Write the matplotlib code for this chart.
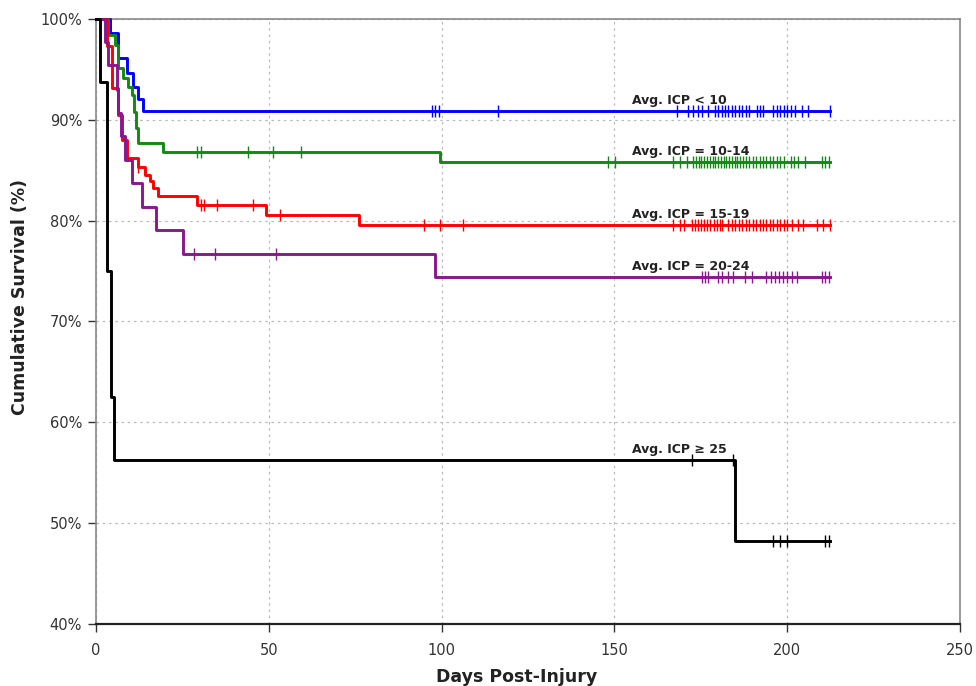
import numpy as np
import matplotlib
matplotlib.use("Agg")
import matplotlib.pyplot as plt
from matplotlib.ticker import FuncFormatter

# ---------------- data ----------------
group_labels = ["Avg. ICP < 10", "Avg. ICP = 10-14", "Avg. ICP = 15-19",
                "Avg. ICP = 20-24", "Avg. ICP \u2265 25"]
group_colors = ["#0000FF", "#108A10", "#FF0000", "#8B168F", "#000000"]

blue_times = [4.0, 6.5, 8.9, 10.8, 12.2, 13.7]
blue_surv = [98.6, 96.1, 94.6, 93.3, 92.1, 90.9]
blue_cens = [97.1, 98.1, 99.3, 116.2, 168, 171.4, 172.6, 174.3, 175.3, 177.2,
             179, 180, 181, 182, 183, 184, 185, 186, 187, 188, 189, 191.2,
             192.1, 193.1, 196, 197, 198, 199, 200, 201, 202.3, 204.2, 206.1, 212.4]

green_times = [3.6, 5.5, 6.5, 7.9, 9.4, 10.3, 11.0, 11.7, 12.2, 19.5, 99.5]
green_surv = [98.4, 97.4, 95.1, 94.1, 93.3, 92.5, 90.8, 89.2, 87.7, 86.8, 85.8]
green_cens = [29.3, 30.3, 44.1, 51.1, 59.2, 148.2, 150.2, 167, 168.9, 170.9,
              172.8, 173.6, 174.4, 175.2, 176, 176.8, 177.6, 178.4, 179.2, 180,
              180.8, 181.6, 182.4, 183.2, 184, 184.8, 185.6, 186.4, 187.2, 188,
              189, 190, 191, 192, 193, 194, 195, 196, 197, 198, 199, 201, 202.1,
              203.2, 205.2, 210, 211, 212]

red_times = [3.1, 4.5, 6.3, 7.4, 8.9, 12.2, 14.2, 15.6, 16.6, 18.0, 29.3, 49.1, 76.2]
red_surv = [97.3, 93.2, 90.5, 88.0, 86.2, 85.3, 84.5, 83.9, 83.2, 82.4, 81.6, 80.6, 79.6]
red_cens = [12.2, 30.3, 31.2, 35.1, 45.3, 53.2, 95, 99.5, 106.1, 167, 169, 170,
            172.4, 173.3, 174.2, 175.1, 176, 176.9, 177.8, 178.7, 179.6, 180.5,
            181.1, 183, 184, 185, 186, 187, 188, 189, 190, 191, 192, 193, 194,
            195, 196, 197, 198, 199, 200, 201.5, 203, 204.7, 208.5, 210.5, 212.4]

purple_times = [2.5, 3.6, 6.0, 6.5, 7.3, 8.4, 10.3, 13.4, 17.3, 25.1, 98.1]
purple_surv = [97.7, 95.4, 93.0, 90.7, 88.4, 86.0, 83.7, 81.4, 79.1, 76.7, 74.4]
purple_cens = [28.4, 34.4, 52.1, 175.3, 176.2, 177.2, 180.1, 181, 183, 184.4,
               187.8, 189.7, 194, 195.2, 196.4, 197.6, 198.8, 199.8, 201.3,
               202.7, 210, 211, 212]

black_times = [1.2, 3.1, 4.3, 5.3, 185]
black_surv = [93.75, 75.0, 62.5, 56.25, 48.2]
black_cens = [172.4, 184.4, 196, 197.9, 199.8, 211, 212]

end_time = 212.5
label_day = 155
x_ticks = [0, 50, 100, 150, 200, 250]
y_ticks = [40, 50, 60, 70, 80, 90, 100]

series = [
    (blue_times, blue_surv, blue_cens),
    (green_times, green_surv, green_cens),
    (red_times, red_surv, red_cens),
    (purple_times, purple_surv, purple_cens),
    (black_times, black_surv, black_cens),
]

# ---------------- plot ----------------
fig = plt.figure(figsize=(9.76, 6.86), dpi=100)
ax = fig.add_axes([96 / 976, 1 - 624 / 686, (960 - 96) / 976, (624 - 19) / 686])

for (t, s, c), col, lab in zip(series, group_colors, group_labels):
    tt = np.array([0.0] + list(t) + [end_time])
    ss = np.array([100.0] + list(s) + [s[-1]])
    ax.step(tt, ss, where="post", color=col, lw=2.1, zorder=3, clip_on=False)
    c = np.array(c)
    idx = np.searchsorted(tt, c, side="right") - 1
    ax.plot(c, ss[idx], linestyle="none", marker="|", markersize=9,
            markeredgewidth=1.0, color=col, zorder=4, clip_on=False)
    lvl = ss[np.searchsorted(tt, label_day, side="right") - 1]
    ax.text(label_day, lvl + 1.05, lab, fontsize=9, fontweight="bold",
            color="#222222", va="center", ha="left", zorder=5)

ax.set_xlim(0, 250)
ax.set_ylim(40, 100)
ax.set_xticks(x_ticks)
ax.set_yticks(y_ticks)
ax.yaxis.set_major_formatter(FuncFormatter(lambda v, p: f"{int(v)}%"))
ax.tick_params(axis="both", labelsize=10.5, colors="#333333", length=6, width=1.0,
               direction="out")
ax.tick_params(axis="y", pad=4)
ax.tick_params(axis="x", pad=8)

ax.grid(True, linestyle=(0, (2, 3)), color="#BBBBBB", lw=0.9, zorder=0)
for side in ["top", "right", "left"]:
    ax.spines[side].set_color("#888888")
    ax.spines[side].set_linewidth(1.2)
ax.spines["bottom"].set_color("#222222")
ax.spines["bottom"].set_linewidth(1.6)

ax.set_xlabel("Days Post-Injury", fontsize=12.5, fontweight="bold", color="#222222")
ax.set_ylabel("Cumulative Survival (%)", fontsize=12.5, fontweight="bold", color="#222222")
ax.xaxis.set_label_coords(0.487, -0.072)
ax.yaxis.set_label_coords(-0.078, 0.54)

fig.savefig("out.png", dpi=100)
